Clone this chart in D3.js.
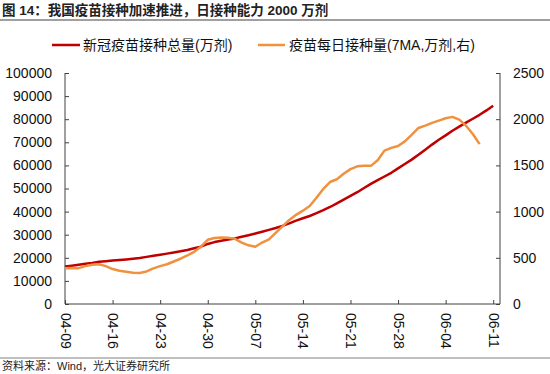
<!DOCTYPE html>
<html><head><meta charset="utf-8">
<script src="https://cdn.jsdelivr.net/npm/d3@7"></script>
<style>
body{margin:0;background:#fff;}
svg text{font-family:"Liberation Sans","Noto Sans CJK SC",sans-serif;}
</style></head>
<body><svg id="c" width="550" height="374"></svg>
<script>
const title = "图 14：我国疫苗接种加速推进，日接种能力 2000 万剂";
const source = "资料来源：Wind，光大证券研究所";
const seriesNames = ["新冠疫苗接种总量(万剂)", "疫苗每日接种量(7MA,万剂,右)"];
const startDate = "2021-04-09";
const endDate = "2021-06-12";
const tickLabels = ["04-09","04-16","04-23","04-30","05-07","05-14","05-21","05-28","06-04","06-11"];
const leftTicks = [0,10000,20000,30000,40000,50000,60000,70000,80000,90000,100000];
const rightTicks = [0,500,1000,1500,2000,2500];
// cumulative doses, daily from 04-09
const totalDoses = [16200,16600,17000,17400,17800,18300,18550,18800,19050,19300,
 19600,19900,20400,20850,21300,21800,22300,22850,23400,24100,
 24800,26000,26800,27400,27900,28400,29100,29800,30500,31300,
 32100,32900,33800,34900,36100,37100,38100,39300,40600,42000,
 43600,45200,46800,48400,50200,52000,53600,55200,56800,58700,
 60600,62500,64600,66800,69000,71100,73000,75000,76800,78500,
 80200,81900,83800,85800];
// daily doses 7MA, daily from 04-09
const dailyDoses = [386,390,388,410,425,430,410,378,360,350,
 338,335,352,385,410,430,460,490,525,565,
 620,695,715,720,718,705,665,635,620,665,
 700,770,840,910,965,1010,1060,1150,1245,1320,
 1350,1410,1460,1490,1495,1495,1555,1660,1690,1710,
 1760,1830,1905,1930,1960,1985,2010,2025,1995,1930,
 1840,1730];

const svg = d3.select("#c");
const parse = d3.timeParse("%Y-%m-%d");
const d0 = parse(startDate);
const dates = totalDoses.map((_, i) => d3.timeDay.offset(d0, i));
const L = 65, R = 500, T = 73, B = 304;
const x = d3.scaleTime().domain([d0, parse(endDate)]).range([L, R]);
const yL = d3.scaleLinear().domain([0,100000]).range([B, T]);
const yR = d3.scaleLinear().domain([0,2500]).range([B, T]);
const axisColor = "#404040";

// title
svg.append("text").attr("x",2).attr("y",15).attr("font-size",13.5).attr("font-weight","bold").attr("fill","#222").text(title);
svg.append("line").attr("x1",0).attr("x2",550).attr("y1",20).attr("y2",20).attr("stroke","#808080").attr("stroke-width",1.5);

// legend
const colors = ["#C00000", "#F0913F"];
const lg = [{x1:52,x2:80,tx:83},{x1:258,x2:285,tx:289}];
lg.forEach((p,i)=>{
  svg.append("line").attr("x1",p.x1).attr("x2",p.x2).attr("y1",45).attr("y2",45).attr("stroke",colors[i]).attr("stroke-width",2.5);
  svg.append("text").attr("x",p.tx).attr("y",50).attr("font-size",14).attr("fill","#111").text(seriesNames[i]);
});

// left axis
const ga = svg.append("g").attr("transform",`translate(${L},0)`)
  .call(d3.axisRight(yL).tickValues(leftTicks).tickSize(4).tickFormat(d=>d).tickPadding(0));
ga.select(".domain").attr("stroke",axisColor).attr("d",`M0,${T}V${B}`);
ga.selectAll(".tick line").attr("stroke",axisColor);
ga.selectAll(".tick text").attr("x",-13).attr("text-anchor","end").attr("font-size",14).attr("fill","#111");

// right axis
const gr = svg.append("g").attr("transform",`translate(${R},0)`)
  .call(d3.axisLeft(yR).tickValues(rightTicks).tickSize(4).tickFormat(d=>d));
gr.select(".domain").attr("stroke",axisColor).attr("d",`M0,${T}V${B}`);
gr.selectAll(".tick line").attr("stroke",axisColor);
gr.selectAll(".tick text").attr("x",13).attr("text-anchor","start").attr("font-size",14).attr("fill","#111");

// x axis
const tickDates = tickLabels.map((_,i)=>d3.timeDay.offset(d0, i*7));
const gx = svg.append("g").attr("transform",`translate(0,${B})`)
  .call(d3.axisTop(x).tickValues(tickDates).tickSize(4).tickFormat((d,i)=>tickLabels[i]));
gx.select(".domain").attr("stroke",axisColor).attr("d",`M${L},0H${R}`);
gx.selectAll(".tick line").attr("stroke",axisColor);
gx.selectAll(".tick text").attr("transform","rotate(90)").attr("x",9).attr("y",0).attr("dy","0.35em")
  .attr("text-anchor","start").attr("font-size",14).attr("fill","#111");

// lines
const lineL = d3.line().x((d,i)=>x(dates[i])).y(d=>yL(d)).curve(d3.curveLinear);
const lineR = d3.line().x((d,i)=>x(dates[i])).y(d=>yR(d)).curve(d3.curveLinear);
svg.append("path").datum(totalDoses).attr("d",lineL).attr("fill","none").attr("stroke",colors[0]).attr("stroke-width",2.5).attr("stroke-linejoin","round");
svg.append("path").datum(dailyDoses).attr("d",lineR).attr("fill","none").attr("stroke",colors[1]).attr("stroke-width",2.5).attr("stroke-linejoin","round");

// footer
svg.append("line").attr("x1",0).attr("x2",550).attr("y1",358).attr("y2",358).attr("stroke","#808080").attr("stroke-width",1);
svg.append("text").attr("x",2).attr("y",370).attr("font-size",11).attr("fill","#222").text(source);
</script></body></html>
